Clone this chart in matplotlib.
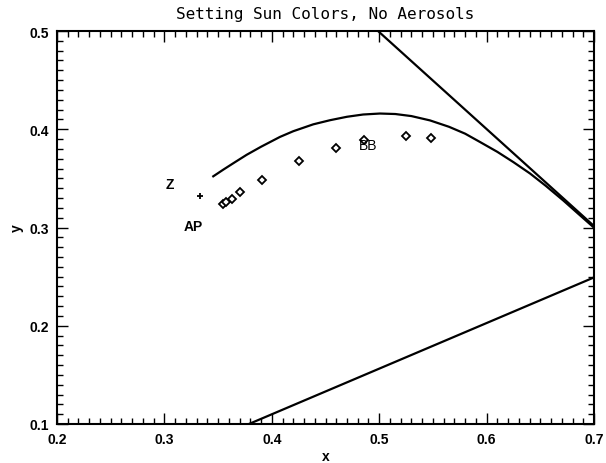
import matplotlib
matplotlib.use("Agg")
import matplotlib.pyplot as plt
from matplotlib.ticker import MultipleLocator

# blackbody (Planck) locus
bb_x = [0.3455, 0.355, 0.365, 0.3766, 0.39, 0.4076, 0.42, 0.4386, 0.4542, 0.47, 0.485,
        0.5007, 0.515, 0.53, 0.5473, 0.565, 0.58, 0.5939, 0.61, 0.625, 0.6404, 0.655,
        0.6714, 0.685, 0.70]
bb_y = [0.3521, 0.3590, 0.3660, 0.3740, 0.3822, 0.3922, 0.3980, 0.4050, 0.4092, 0.4127, 0.4150,
        0.4160, 0.4155, 0.4134, 0.4090, 0.4025, 0.3955, 0.3870, 0.3770, 0.3665, 0.3550, 0.3425,
        0.3275, 0.3143, 0.2998]

# spectrum locus (red end) and purple line
spec_x = [0.4989, 0.70]
spec_y = [0.50, 0.3015]
purple_x = [0.1741, 0.7347]
purple_y = [0.005, 0.2653]

# setting sun colours
sun_x = [0.3550, 0.3574, 0.3632, 0.3701, 0.3906, 0.4256, 0.4595, 0.4863, 0.5245, 0.5479]
sun_y = [0.3244, 0.3260, 0.3293, 0.3358, 0.3483, 0.3674, 0.3806, 0.3891, 0.3928, 0.3914]

# zenith point
zen_x = [0.3331]
zen_y = [0.3324]

labels = ["Z", "AP", "BB"]
label_x = [0.3052, 0.3266, 0.4896]
label_y = [0.3443, 0.3018, 0.3843]

fig = plt.figure(figsize=(6.06, 4.64), dpi=100)
ax = fig.add_axes([57/606, 39/464, 537/606, 393/464])

ax.plot(bb_x, bb_y, color="black", lw=1.6)
ax.plot(spec_x, spec_y, color="black", lw=1.6)
ax.plot(purple_x, purple_y, color="black", lw=1.6)
ax.plot(sun_x, sun_y, linestyle="none", marker="D", markersize=4,
        markerfacecolor="white", markeredgecolor="black", markeredgewidth=1.3)
ax.plot(zen_x, zen_y, linestyle="none", marker="+", markersize=5,
        color="black", markeredgewidth=1.3)

for i, lab in enumerate(labels):
    w = "normal" if lab == "BB" else "bold"
    ax.text(label_x[i], label_y[i], lab, ha="center", va="center",
            fontsize=10, fontweight=w, family="Liberation Sans")

ax.set_xlim(0.2, 0.7)
ax.set_ylim(0.1, 0.5)
ax.xaxis.set_major_locator(MultipleLocator(0.1))
ax.yaxis.set_major_locator(MultipleLocator(0.1))
ax.xaxis.set_minor_locator(MultipleLocator(0.01))
ax.yaxis.set_minor_locator(MultipleLocator(0.01))
ax.tick_params(which="both", direction="in", top=True, right=True, width=1.0)
ax.tick_params(which="major", length=8, pad=6)
ax.tick_params(which="minor", length=4)
for s in ax.spines.values():
    s.set_linewidth(1.5)

for lab in ax.get_xticklabels() + ax.get_yticklabels():
    lab.set_family("Liberation Sans")
    lab.set_fontweight("bold")
    lab.set_fontsize(10)

ax.set_xlabel("x", fontsize=10, fontweight="bold", family="Liberation Sans", labelpad=2)
ax.set_ylabel("y", fontsize=10, fontweight="bold", family="Liberation Sans", labelpad=4)
ax.set_title("Setting Sun Colors, No Aerosols", fontsize=11.5, family="DejaVu Sans Mono", pad=9)

fig.savefig("out.png", dpi=100)
